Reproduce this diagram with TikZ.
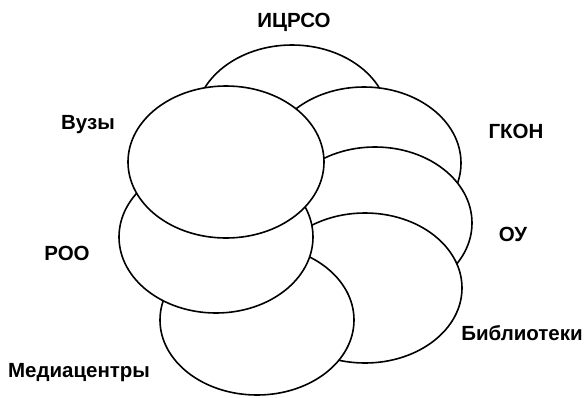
\documentclass[tikz,border=0pt]{standalone}
\usepackage{fontspec}
\setmainfont{Liberation Sans}
\usetikzlibrary{shapes.geometric}
\tikzset{
    oval/.style={draw=black, fill=white, line width=1.6pt},
    lbl/.style={font=\fontsize{20.5}{24}\selectfont\bfseries, inner sep=0pt}
}

\begin{document}
\begin{tikzpicture}[x=1pt,y=-1pt]
                \useasboundingbox (0,0) rectangle (584,397);

                \draw[oval] (292,121) ellipse (97 and 76);
                \draw[oval] (364,163) ellipse (97 and 76);
                \draw[oval] (375,223) ellipse (97 and 76);
                \draw[oval] (365,288) ellipse (97 and 75);
                \draw[oval] (257,320) ellipse (97 and 75);
                \draw[oval] (216,237) ellipse (97 and 76);
                \draw[oval] (226,162) ellipse (98 and 76);

                \node[lbl] (icrso) at (294,22) {ИЦРСО};
                \node[lbl] (vuzy) at (88,125) {Вузы};
                \node[lbl] (gkon) at (516,131) {ГКОН};
                \node[lbl] (oy) at (513,234) {ОУ};
                \node[lbl] (roo) at (67,253) {РОО};
                \node[lbl] (bibl) at (522,333) {Библиотеки};
                \node[lbl] (media) at (79,373) {Медиацентры};
            \end{tikzpicture}
\end{document}
